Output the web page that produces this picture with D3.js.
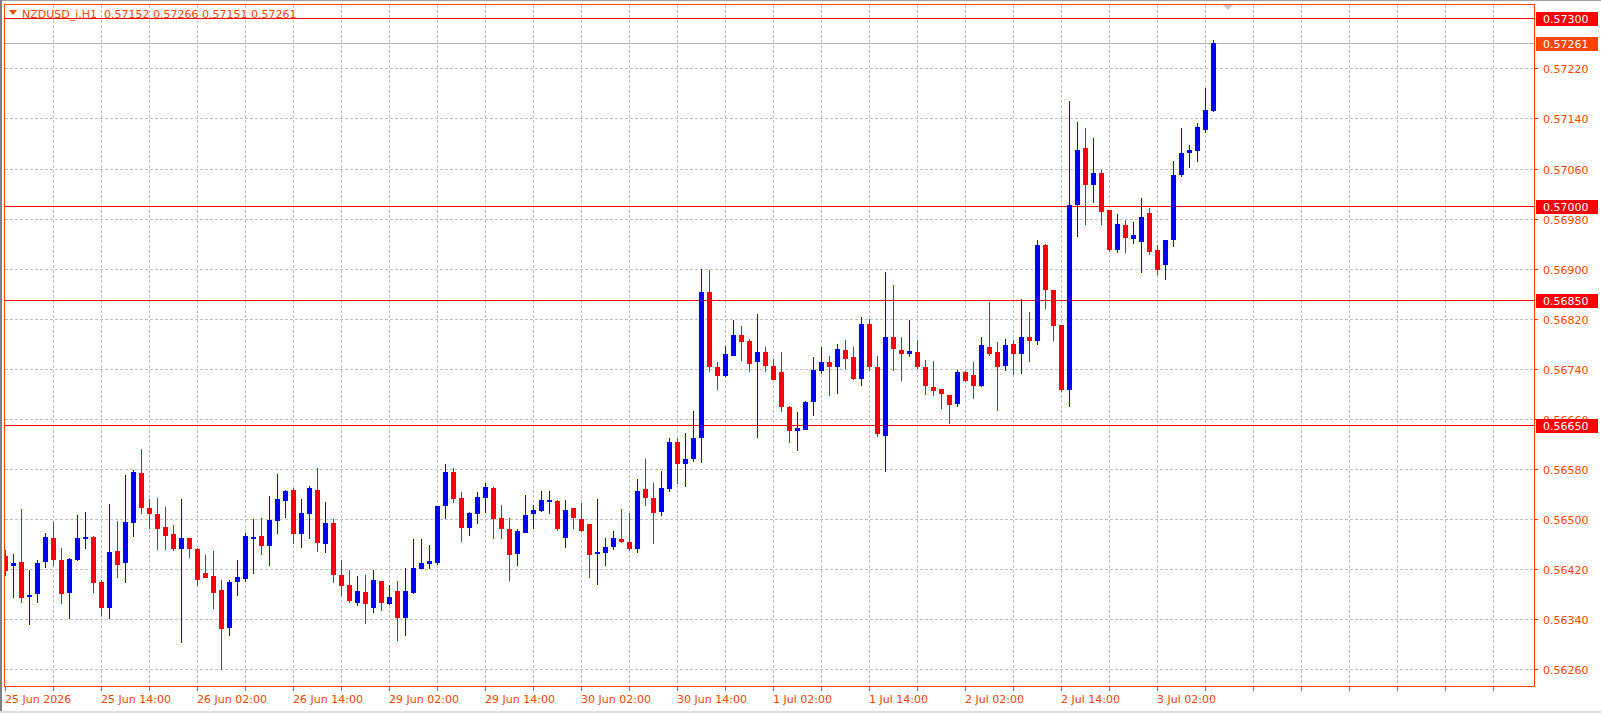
<!DOCTYPE html>
<html>
<head>
<meta charset="utf-8">
<script src="https://cdn.jsdelivr.net/npm/d3@7"></script>
<style>
  body { margin: 0; background: #fff; }
  svg { display: block; font-family: "DejaVu Sans", sans-serif; font-size: 11px; }
</style>
</head>
<body>
<div id="chart"></div>
<script>
// NZDUSD_i H1 candles (bar 0 = 25 Jun 02:00)
var open = [0.56440,0.56425,0.56431,0.56376,0.56380,0.56431,0.56469,0.56434,0.56382,0.56434,
  0.56468,0.56471,0.56399,0.56358,0.56449,0.56430,0.56494,0.56574,0.56517,0.56508,
  0.56487,0.56476,0.56452,0.56469,0.56452,0.56413,0.56409,0.56386,0.56326,0.56399,
  0.56404,0.56470,0.56473,0.56457,0.56497,0.56529,0.56546,0.56476,0.56508,0.56546,
  0.56460,0.56493,0.56410,0.56394,0.56366,0.56383,0.56358,0.56401,0.56364,0.56385,
  0.56342,0.56382,0.56420,0.56428,0.56430,0.56521,0.56575,0.56533,0.56486,0.56508,
  0.56534,0.56549,0.56501,0.56484,0.56444,0.56478,0.56508,0.56513,0.56527,0.56529,
  0.56470,0.56517,0.56500,0.56492,0.56444,0.56446,0.56455,0.56467,0.56463,0.56452,
  0.56547,0.56534,0.56511,0.56547,0.56623,0.56588,0.56595,0.56630,0.56863,0.56742,
  0.56729,0.56761,0.56794,0.56785,0.56750,0.56767,0.56745,0.56734,0.56678,0.56641,
  0.56642,0.56686,0.56737,0.56751,0.56742,0.56770,0.56759,0.56724,0.56812,0.56743,
  0.56633,0.56791,0.56770,0.56764,0.56767,0.56743,0.56711,0.56708,0.56698,0.56684,
  0.56734,0.56730,0.56713,0.56775,0.56766,0.56745,0.56780,0.56764,0.56791,0.56785,
  0.56937,0.56865,0.56810,0.56706,0.57002,0.57092,0.57033,0.57053,0.56994,0.56930,
  0.56970,0.56948,0.56943,0.56989,0.56930,0.56906,0.56945,0.57049,0.57085,0.57088,
  0.57122,0.57152];
var high = [0.56450,0.56444,0.56516,0.56418,0.56434,0.56477,0.56495,0.56453,0.56437,0.56506,
  0.56511,0.56473,0.56402,0.56524,0.56497,0.56570,0.56578,0.56612,0.56532,0.56533,
  0.56519,0.56490,0.56532,0.56469,0.56453,0.56442,0.56449,0.56402,0.56402,0.56434,
  0.56477,0.56500,0.56501,0.56537,0.56572,0.56546,0.56549,0.56532,0.56553,0.56581,
  0.56527,0.56500,0.56434,0.56418,0.56409,0.56410,0.56418,0.56401,0.56394,0.56401,
  0.56421,0.56467,0.56468,0.56458,0.56521,0.56588,0.56581,0.56543,0.56511,0.56543,
  0.56557,0.56551,0.56522,0.56501,0.56483,0.56538,0.56522,0.56545,0.56545,0.56530,
  0.56530,0.56517,0.56526,0.56492,0.56532,0.56470,0.56481,0.56516,0.56510,0.56564,
  0.56595,0.56558,0.56577,0.56630,0.56630,0.56638,0.56673,0.56900,0.56897,0.56751,
  0.56777,0.56818,0.56809,0.56788,0.56828,0.56774,0.56756,0.56766,0.56681,0.56671,
  0.56689,0.56758,0.56775,0.56761,0.56780,0.56786,0.56774,0.56823,0.56820,0.56761,
  0.56895,0.56874,0.56790,0.56818,0.56786,0.56754,0.56753,0.56708,0.56698,0.56738,
  0.56737,0.56750,0.56790,0.56847,0.56783,0.56788,0.56786,0.56852,0.56831,0.56946,
  0.56940,0.56865,0.56810,0.57168,0.57135,0.57125,0.57108,0.57058,0.56994,0.56988,
  0.56978,0.56975,0.57013,0.56997,0.56938,0.56946,0.57072,0.57124,0.57098,0.57132,
  0.57188,0.57266];
var low = [0.56409,0.56374,0.56366,0.56331,0.56366,0.56422,0.56425,0.56364,0.56340,0.56433,
  0.56452,0.56382,0.56345,0.56340,0.56406,0.56398,0.56471,0.56508,0.56483,0.56451,
  0.56451,0.56449,0.56302,0.56438,0.56393,0.56406,0.56356,0.56259,0.56312,0.56376,
  0.56399,0.56412,0.56443,0.56425,0.56475,0.56501,0.56460,0.56454,0.56468,0.56447,
  0.56446,0.56398,0.56377,0.56366,0.56361,0.56332,0.56350,0.56353,0.56363,0.56305,
  0.56313,0.56380,0.56420,0.56420,0.56427,0.56500,0.56526,0.56463,0.56473,0.56492,
  0.56510,0.56467,0.56468,0.56400,0.56425,0.56478,0.56484,0.56511,0.56508,0.56481,
  0.56454,0.56484,0.56479,0.56406,0.56395,0.56424,0.56451,0.56462,0.56449,0.56446,
  0.56521,0.56460,0.56505,0.56543,0.56556,0.56551,0.56591,0.56590,0.56735,0.56706,
  0.56727,0.56761,0.56753,0.56735,0.56630,0.56734,0.56722,0.56670,0.56622,0.56609,
  0.56642,0.56665,0.56732,0.56697,0.56700,0.56740,0.56722,0.56713,0.56737,0.56631,
  0.56575,0.56737,0.56721,0.56759,0.56740,0.56698,0.56697,0.56676,0.56652,0.56678,
  0.56718,0.56692,0.56710,0.56761,0.56673,0.56737,0.56730,0.56732,0.56750,0.56778,
  0.56836,0.56785,0.56702,0.56678,0.56951,0.56969,0.57005,0.56969,0.56927,0.56925,
  0.56925,0.56940,0.56893,0.56921,0.56889,0.56882,0.56935,0.57047,0.57061,0.57071,
  0.57117,0.57151];
var close = [0.56416,0.56430,0.56374,0.56379,0.56429,0.56471,0.56434,0.56380,0.56436,0.56469,
  0.56471,0.56398,0.56358,0.56447,0.56427,0.56495,0.56575,0.56518,0.56508,0.56484,
  0.56473,0.56452,0.56469,0.56452,0.56403,0.56406,0.56382,0.56324,0.56399,0.56407,
  0.56473,0.56471,0.56457,0.56498,0.56532,0.56545,0.56476,0.56509,0.56549,0.56462,
  0.56493,0.56411,0.56393,0.56368,0.56385,0.56364,0.56402,0.56366,0.56375,0.56342,
  0.56385,0.56421,0.56429,0.56433,0.56521,0.56575,0.56532,0.56486,0.56509,0.56535,
  0.56551,0.56500,0.56484,0.56443,0.56481,0.56506,0.56514,0.56530,0.56530,0.56484,
  0.56514,0.56502,0.56481,0.56443,0.56447,0.56455,0.56470,0.56463,0.56452,0.56545,
  0.56534,0.56510,0.56550,0.56623,0.56588,0.56595,0.56630,0.56863,0.56742,0.56729,
  0.56764,0.56794,0.56782,0.56748,0.56766,0.56745,0.56722,0.56678,0.56641,0.56646,
  0.56687,0.56738,0.56751,0.56742,0.56772,0.56756,0.56724,0.56812,0.56742,0.56636,
  0.56790,0.56772,0.56764,0.56769,0.56742,0.56713,0.56705,0.56700,0.56682,0.56734,
  0.56721,0.56713,0.56778,0.56764,0.56743,0.56778,0.56764,0.56791,0.56785,0.56937,
  0.56865,0.56809,0.56706,0.57002,0.57090,0.57034,0.57053,0.56991,0.56930,0.56972,
  0.56949,0.56954,0.56983,0.56927,0.56898,0.56945,0.57050,0.57085,0.57090,0.57127,
  0.57154,0.57261];

// axis labels
var priceTicks = [0.5626, 0.5634, 0.5642, 0.5650, 0.5658, 0.5666, 0.5674, 0.5682, 0.5690, 0.5698, 0.5706, 0.5714, 0.5722];
var timeLabels = ["25 Jun 2026", "25 Jun 14:00", "26 Jun 02:00", "26 Jun 14:00", "29 Jun 02:00", "29 Jun 14:00",
  "30 Jun 02:00", "30 Jun 14:00", "1 Jul 02:00", "1 Jul 14:00", "2 Jul 02:00", "2 Jul 14:00", "3 Jul 02:00"];
var timeLabelBars = [0, 12, 24, 36, 48, 60, 72, 84, 96, 108, 120, 132, 144];
var levels = [0.57300, 0.57000, 0.56850, 0.56650];
var bid = 0.57261;
var title = "NZDUSD_i,H1  0.57152 0.57266 0.57151 0.57261";

var svgWidth = 1601, svgHeight = 713;
var plot = { left: 5, top: 5, right: 1534, bottom: 686 };
var axisColor = "#ff4500", bullColor = "#0000ff", bearColor = "#ff0000", gridColor = "#c0c0c0";

var svg = d3.select("#chart").append("svg")
  .attr("width", svgWidth)
  .attr("height", svgHeight);

// window edges
svg.append("rect").attr("x", 0).attr("y", 0).attr("width", svgWidth).attr("height", 1).attr("fill", "#a0a0a0");
svg.append("rect").attr("x", 0).attr("y", 0).attr("width", 2).attr("height", svgHeight).attr("fill", "#808080");
svg.append("rect").attr("x", 0).attr("y", svgHeight - 2).attr("width", svgWidth).attr("height", 2).attr("fill", "#dcdcdc");

// scales: 8 px per bar
var x = d3.scaleLinear().domain([0, open.length - 1]).range([5, 5 + 8 * (open.length - 1)]);
var y = d3.scaleLinear().domain([0.5626, 0.5722]).range([669, 68.4]);
var py = v => Math.round(y(v)) + 0.5;

svg.append("clipPath").attr("id", "plotClip")
  .append("rect")
  .attr("x", plot.left).attr("y", plot.top)
  .attr("width", plot.right - plot.left).attr("height", plot.bottom - plot.top);

var grid = svg.append("g").attr("clip-path", "url(#plotClip)");

// vertical grid every 6 bars
var gridBars = d3.range(6, 200, 6).filter(i => x(i) < plot.right);
grid.selectAll(".vgrid").data(gridBars).enter().append("line")
  .attr("x1", d => x(d) + 0.5).attr("x2", d => x(d) + 0.5)
  .attr("y1", plot.top).attr("y2", plot.bottom)
  .attr("stroke", gridColor).attr("stroke-dasharray", "3,2");

grid.selectAll(".hgrid").data(priceTicks).enter().append("line")
  .attr("x1", plot.left).attr("x2", plot.right)
  .attr("y1", d => py(d)).attr("y2", d => py(d))
  .attr("stroke", gridColor).attr("stroke-dasharray", "3,2");

// bid line
grid.append("line")
  .attr("x1", plot.left).attr("x2", plot.right)
  .attr("y1", py(bid)).attr("y2", py(bid))
  .attr("stroke", "#b4b4b4");

// horizontal levels
grid.selectAll(".level").data(levels).enter().append("line")
  .attr("x1", plot.left).attr("x2", plot.right)
  .attr("y1", d => py(d)).attr("y2", d => py(d))
  .attr("stroke", "#ff0000");

// candles
var bars = d3.range(open.length).map(i => ({ i: i, o: open[i], h: high[i], l: low[i], c: close[i] }));
var candles = grid.selectAll(".candle").data(bars).enter().append("g");

candles.append("rect")
  .attr("x", d => x(d.i))
  .attr("y", d => Math.round(y(d.h)))
  .attr("width", 1)
  .attr("height", d => Math.max(1, Math.round(y(d.l)) - Math.round(y(d.h))))
  .attr("fill", d => d.c >= d.o ? bullColor : bearColor);

candles.append("rect")
  .attr("x", d => x(d.i) - 2)
  .attr("y", d => Math.round(y(Math.max(d.o, d.c))))
  .attr("width", 5)
  .attr("height", d => Math.max(2, Math.round(y(Math.min(d.o, d.c))) - Math.round(y(Math.max(d.o, d.c)))))
  .attr("fill", d => d.c >= d.o ? bullColor : bearColor);

// frame
svg.append("rect")
  .attr("x", plot.left - 0.5).attr("y", plot.top - 0.5)
  .attr("width", plot.right - plot.left + 1).attr("height", plot.bottom - plot.top + 1)
  .attr("fill", "none").attr("stroke", axisColor);

// chart shift marker
svg.append("path")
  .attr("d", "M1223,5 L1233,5 L1228,10 Z")
  .attr("fill", "#c8c8c8");

// price axis
var yAxis = svg.append("g");
yAxis.selectAll(".ytick").data(priceTicks).enter().append("line")
  .attr("x1", plot.right + 1).attr("x2", plot.right + 4)
  .attr("y1", d => py(d)).attr("y2", d => py(d))
  .attr("stroke", axisColor);
yAxis.selectAll(".ylabel").data(priceTicks).enter().append("text")
  .attr("x", plot.right + 9)
  .attr("y", d => py(d) + 4)
  .attr("fill", axisColor)
  .text(d => d3.format(".5f")(d));

// level and bid labels (drawn over the tick labels, as in the terminal)
var tags = levels.map(v => ({ v: v, fill: "#ff0000" })).concat([{ v: bid, fill: "#ff4500" }]);
var tag = svg.selectAll(".tag").data(tags).enter().append("g");
tag.append("rect")
  .attr("x", plot.right + 2)
  .attr("y", d => Math.round(y(d.v)) - 6)
  .attr("width", 62).attr("height", 14)
  .attr("fill", d => d.fill);
tag.append("text")
  .attr("x", plot.right + 9)
  .attr("y", d => Math.round(y(d.v)) + 5)
  .attr("fill", "#ffffff")
  .text(d => d3.format(".5f")(d.v));

// time axis
var xAxis = svg.append("g");
xAxis.selectAll(".xtick").data([0].concat(gridBars)).enter().append("line")
  .attr("x1", d => x(d) + 0.5).attr("x2", d => x(d) + 0.5)
  .attr("y1", plot.bottom + 1).attr("y2", plot.bottom + 5)
  .attr("stroke", axisColor);
xAxis.selectAll(".xlabel").data(timeLabels).enter().append("text")
  .attr("x", (d, k) => x(timeLabelBars[k]))
  .attr("y", plot.bottom + 17)
  .attr("fill", axisColor)
  .text(d => d);

// title
svg.append("path").attr("d", "M9,10 L17,10 L13,15 Z").attr("fill", axisColor);
svg.append("text")
  .attr("x", 22).attr("y", 18)
  .attr("fill", axisColor)
  .style("white-space", "pre")
  .attr("xml:space", "preserve")
  .text(title);
</script>
</body>
</html>
